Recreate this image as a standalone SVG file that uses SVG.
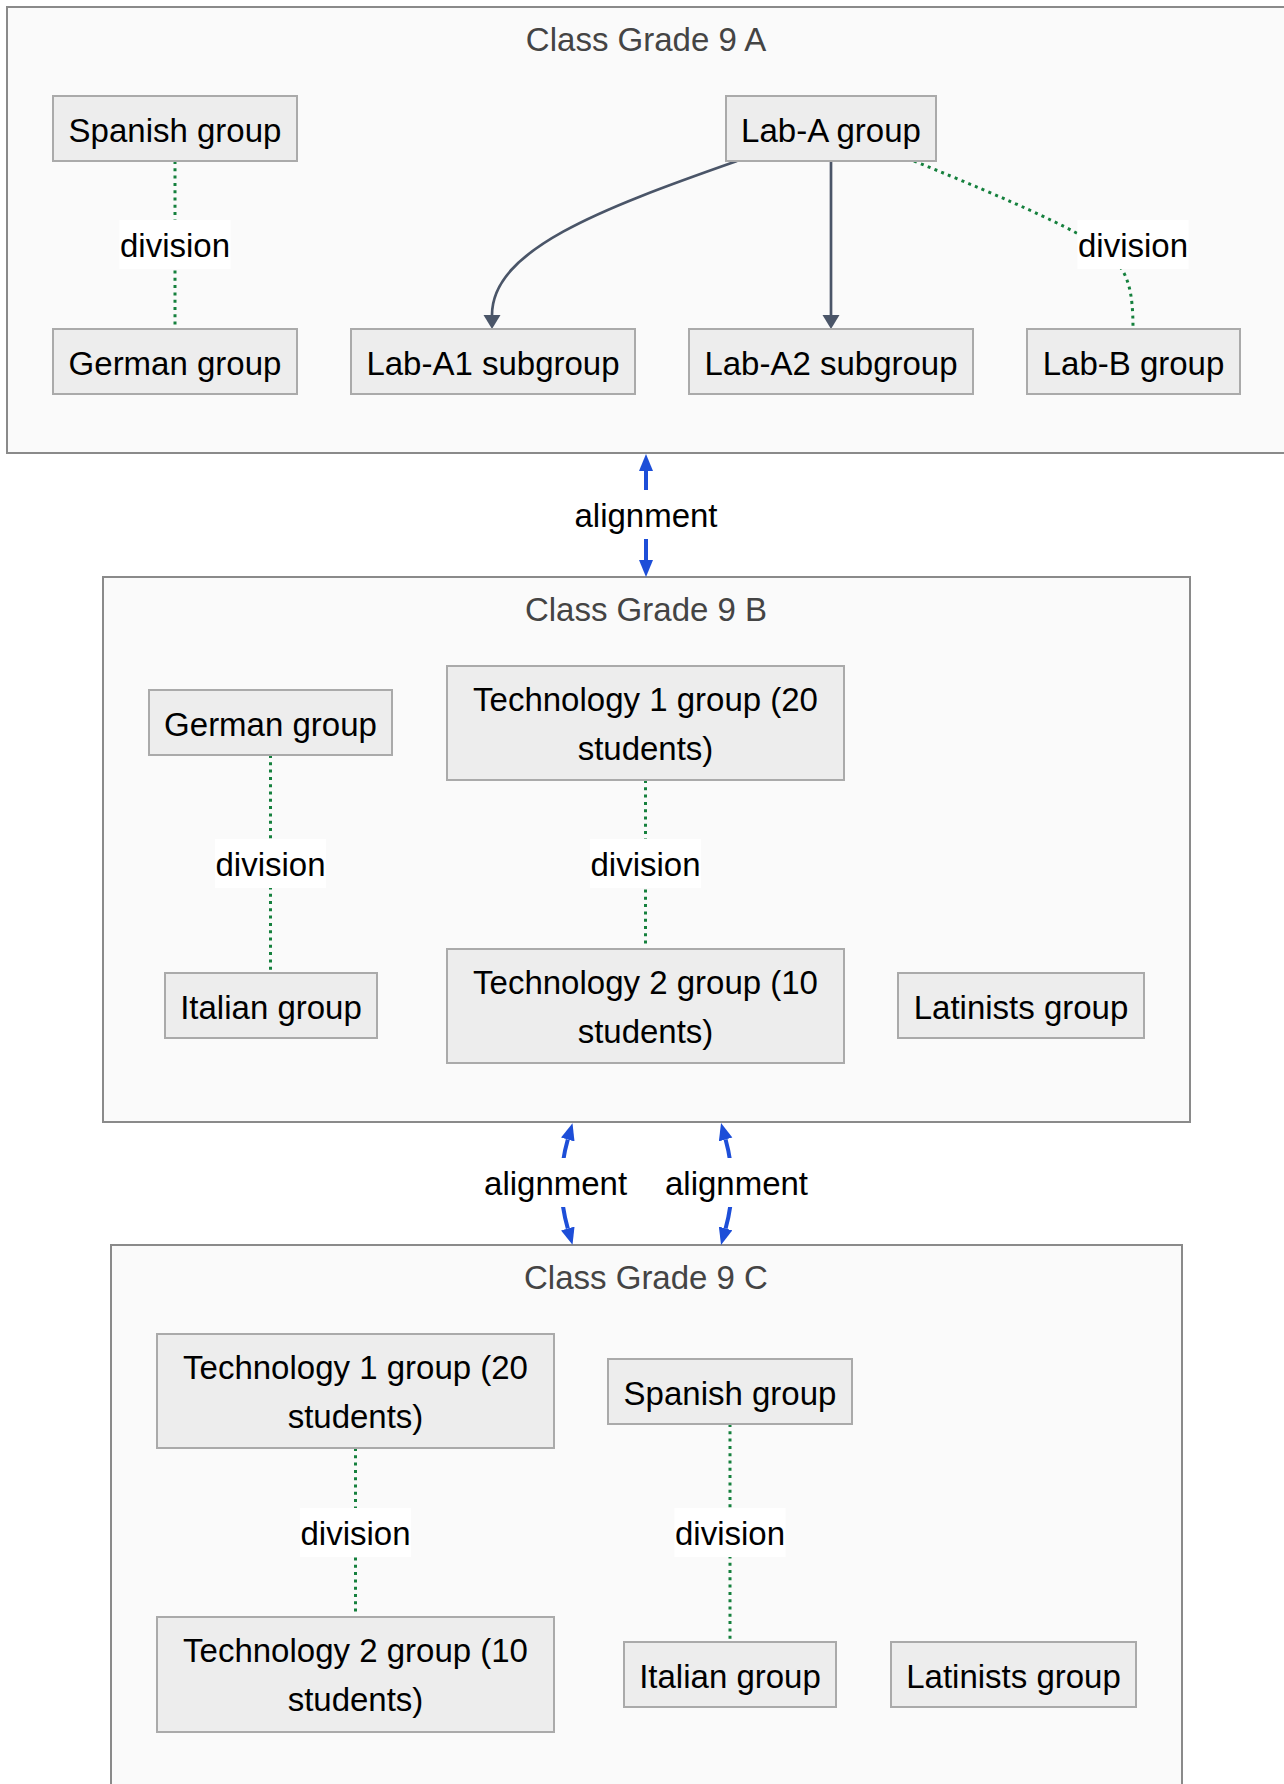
<svg xmlns="http://www.w3.org/2000/svg" width="1284" height="1784" viewBox="0 0 1284 1784">
  <style>
    text { font-family: "Liberation Sans", Arial, Helvetica, sans-serif; font-size: 33px; text-anchor: middle; fill: #000; }
    .cluster rect { fill: #fafafa; stroke: #8a8a8a; stroke-width: 2; }
    .cluster text { fill: #444; }
    .node rect { fill: #ededed; stroke: #aaaaaa; stroke-width: 2; }
    .flow { fill: none; stroke: #4a5568; stroke-width: 2.7; }
    .division { fill: none; stroke: #15803d; stroke-width: 3; stroke-dasharray: 3 4.3; }
    .alignment { fill: none; stroke: #1d4ed8; stroke-width: 4; }
    .lbl rect { fill: #ffffff; }
  </style>
  <defs>
    <marker id="head-flow" markerUnits="userSpaceOnUse" markerWidth="16" markerHeight="18" refX="0" refY="8.5" orient="auto">
      <path d="M0,0 L14,8.5 L0,17 Z" fill="#4a5568"/>
    </marker>
    <marker id="head-align" markerUnits="userSpaceOnUse" markerWidth="18" markerHeight="16" refX="0" refY="7" orient="auto-start-reverse">
      <path d="M0,0 L17,7 L0,14 Z" fill="#1d4ed8"/>
    </marker>
  </defs>

  <!-- class containers -->
  <g id="class-9a" class="cluster">
    <rect x="7" y="7" width="1278" height="446"/>
    <text x="646" y="51">Class Grade 9 A</text>
  </g>
  <g id="class-9b" class="cluster">
    <rect x="103" y="577" width="1087" height="545"/>
    <text x="646" y="621">Class Grade 9 B</text>
  </g>
  <g id="class-9c" class="cluster">
    <rect x="111" y="1245" width="1071" height="600"/>
    <text x="646" y="1289">Class Grade 9 C</text>
  </g>

  <!-- connectors -->
  <g id="connectors">
    <!-- Grade 9 A -->
    <path class="division" d="M175,161 L175,329"/>
    <path class="flow" d="M737,161 C600,209 492,250 492,315" marker-end="url(#head-flow)"/>
    <path class="flow" d="M831,161 L831,315" marker-end="url(#head-flow)"/>
    <path class="division" d="M914,161 C1010,200 1090,235 1110,255 C1128,272 1133,290 1133,329"/>
    <!-- Grade 9 B -->
    <path class="division" d="M270.5,755 L270.5,973"/>
    <path class="division" d="M645.5,780 L645.5,949"/>
    <!-- Grade 9 C -->
    <path class="division" d="M355.5,1448 L355.5,1617"/>
    <path class="division" d="M730,1424 L730,1642"/>
    <!-- alignment between classes -->
    <path class="alignment" d="M646,471 L646,560" marker-start="url(#head-align)" marker-end="url(#head-align)"/>
    <path class="alignment" d="M567.8,1139.5 Q555,1184 567.8,1228.5" marker-start="url(#head-align)" marker-end="url(#head-align)"/>
    <path class="alignment" d="M725.6,1139.5 Q738,1184 725.6,1228.5" marker-start="url(#head-align)" marker-end="url(#head-align)"/>

    <!-- connector labels -->
    <g class="lbl"><rect x="119.5" y="220" width="111" height="49"/><text x="175" y="257">division</text></g>
    <g class="lbl"><rect x="1077.5" y="220" width="111" height="49"/><text x="1133" y="257">division</text></g>
    <g class="lbl"><rect x="215" y="839" width="111" height="49"/><text x="270.5" y="876">division</text></g>
    <g class="lbl"><rect x="590" y="839" width="111" height="49"/><text x="645.5" y="876">division</text></g>
    <g class="lbl"><rect x="300" y="1508" width="111" height="49"/><text x="355.5" y="1545">division</text></g>
    <g class="lbl"><rect x="674.5" y="1508" width="111" height="49"/><text x="730" y="1545">division</text></g>
    <g class="lbl"><rect x="574.5" y="490" width="143" height="49"/><text x="646" y="527">alignment</text></g>
    <g class="lbl"><rect x="484" y="1158" width="143" height="49"/><text x="555.6" y="1195">alignment</text></g>
    <g class="lbl"><rect x="665" y="1158" width="143" height="49"/><text x="736.5" y="1195">alignment</text></g>
  </g>

  <!-- Grade 9 A nodes -->
  <g id="a-spanish" class="node"><rect x="53" y="96" width="244" height="65"/><text x="175" y="141.5">Spanish group</text></g>
  <g id="a-german" class="node"><rect x="53" y="329" width="244" height="65"/><text x="175" y="374.5">German group</text></g>
  <g id="a-lab-a" class="node"><rect x="726" y="96" width="210" height="65"/><text x="831" y="141.5">Lab-A group</text></g>
  <g id="a-lab-a1" class="node"><rect x="351" y="329" width="284" height="65"/><text x="493" y="374.5">Lab-A1 subgroup</text></g>
  <g id="a-lab-a2" class="node"><rect x="689" y="329" width="284" height="65"/><text x="831" y="374.5">Lab-A2 subgroup</text></g>
  <g id="a-lab-b" class="node"><rect x="1027" y="329" width="213" height="65"/><text x="1133.5" y="374.5">Lab-B group</text></g>

  <!-- Grade 9 B nodes -->
  <g id="b-german" class="node"><rect x="149" y="690" width="243" height="65"/><text x="270.5" y="735.5">German group</text></g>
  <g id="b-tech1" class="node"><rect x="447" y="666" width="397" height="114"/><text x="645.5" y="711">Technology 1 group (20</text><text x="645.5" y="760">students)</text></g>
  <g id="b-italian" class="node"><rect x="165" y="973" width="212" height="65"/><text x="271" y="1018.5">Italian group</text></g>
  <g id="b-tech2" class="node"><rect x="447" y="949" width="397" height="114"/><text x="645.5" y="994">Technology 2 group (10</text><text x="645.5" y="1043">students)</text></g>
  <g id="b-latinists" class="node"><rect x="898" y="973" width="246" height="65"/><text x="1021" y="1018.5">Latinists group</text></g>

  <!-- Grade 9 C nodes -->
  <g id="c-tech1" class="node"><rect x="157" y="1334" width="397" height="114"/><text x="355.5" y="1379">Technology 1 group (20</text><text x="355.5" y="1428">students)</text></g>
  <g id="c-spanish" class="node"><rect x="608" y="1359" width="244" height="65"/><text x="730" y="1404.5">Spanish group</text></g>
  <g id="c-tech2" class="node"><rect x="157" y="1617" width="397" height="115"/><text x="355.5" y="1662">Technology 2 group (10</text><text x="355.5" y="1711">students)</text></g>
  <g id="c-italian" class="node"><rect x="624" y="1642" width="212" height="65"/><text x="730" y="1687.5">Italian group</text></g>
  <g id="c-latinists" class="node"><rect x="891" y="1642" width="245" height="65"/><text x="1013.5" y="1687.5">Latinists group</text></g>
</svg>
